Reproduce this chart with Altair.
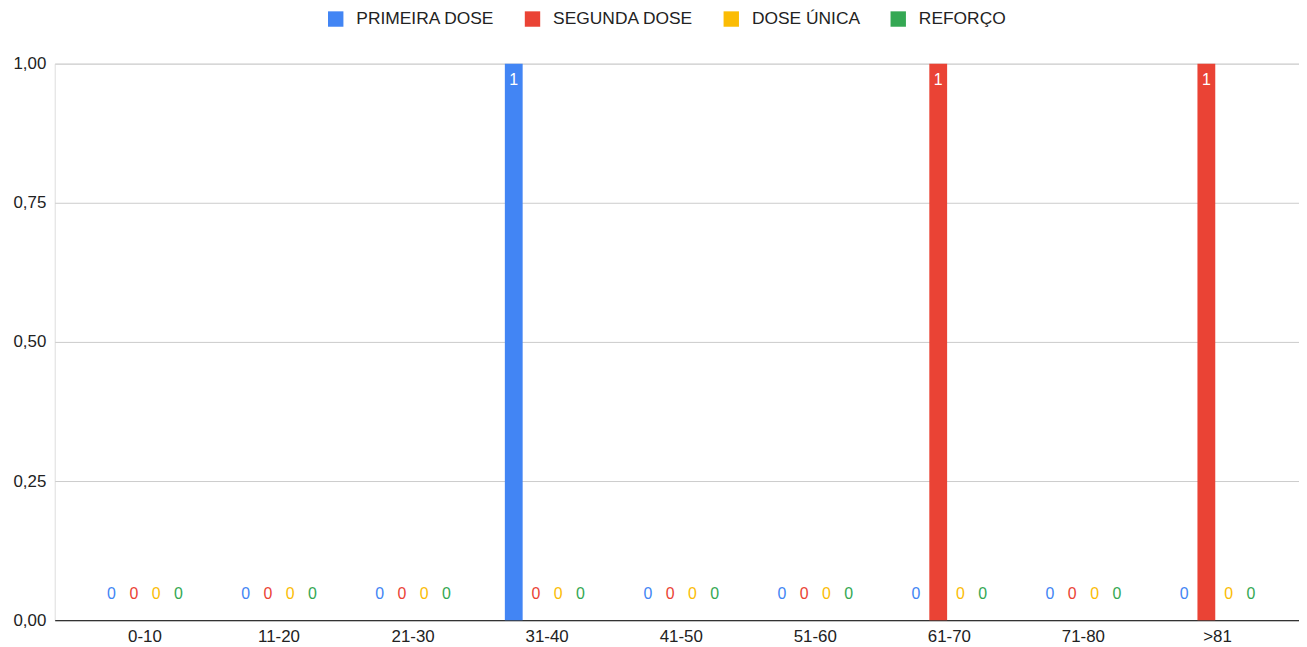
import altair as alt
import pandas as pd

categorias = ["0-10", "11-20", "21-30", "31-40", "41-50", "51-60", "61-70", "71-80", ">81"]
series = ["PRIMEIRA DOSE", "SEGUNDA DOSE", "DOSE ÚNICA", "REFORÇO"]
primeira_dose = [0, 0, 0, 1, 0, 0, 0, 0, 0]
segunda_dose = [0, 0, 0, 0, 0, 0, 1, 0, 1]
dose_unica = [0, 0, 0, 0, 0, 0, 0, 0, 0]
reforco = [0, 0, 0, 0, 0, 0, 0, 0, 0]
cores = ["#4285F4", "#EA4335", "#FBBC04", "#34A853"]

valores = [primeira_dose, segunda_dose, dose_unica, reforco]
rows = []
for s, vals in zip(series, valores):
    for c, v in zip(categorias, vals):
        rows.append({"faixa": c, "serie": s, "valor": v})
df = pd.DataFrame(rows)

FONT = "Liberation Sans"

x = alt.X("faixa:N", sort=categorias,
          scale=alt.Scale(paddingInner=0.369, paddingOuter=0.325, align=0.55),
          axis=alt.Axis(title=None, labelAngle=0, domainColor="#333333", domainWidth=1.2,
                        ticks=False, labelFontSize=17, labelPadding=8, labelColor="#222222",
                        labelFont=FONT))
xo = alt.XOffset("serie:N", sort=series,
                 scale=alt.Scale(paddingInner=0.2, paddingOuter=0))
y = alt.Y("valor:Q", scale=alt.Scale(domain=[0, 1]),
          axis=alt.Axis(title=None, values=[0, 0.25, 0.5, 0.75, 1],
                        labelExpr="replace(format(datum.value, '.2f'), '.', ',')",
                        domain=False, ticks=False, gridColor="#cccccc",
                        labelFontSize=17, labelPadding=9, labelColor="#222222",
                        labelFont=FONT))
color = alt.Color("serie:N", sort=series,
                  scale=alt.Scale(domain=series, range=cores),
                  legend=alt.Legend(title=None, orient="none", direction="horizontal",
                                    legendX=274, legendY=-54,
                                    symbolType="square", symbolSize=240, symbolStrokeWidth=0,
                                    labelFontSize=17.5, labelFont=FONT, labelColor="#222222",
                                    labelOffset=12, columnPadding=29, columns=4))

base = alt.Chart(df)

bars = base.mark_bar().encode(x=x, xOffset=xo, y=y, color=color)

zeros = base.transform_filter("datum.valor == 0").mark_text(
    dy=-26, baseline="middle", fontSize=16, font=FONT
).encode(x=x, xOffset=xo, y=y, text="valor:Q",
         color=alt.Color("serie:N", sort=series, scale=alt.Scale(domain=series, range=cores), legend=None))

ones = base.transform_filter("datum.valor > 0").mark_text(
    dy=16, baseline="middle", fontSize=16, font=FONT, color="white"
).encode(x=x, xOffset=xo, y=y, text="valor:Q")

chart = alt.layer(bars, zeros, ones).properties(
    width=1252, height=560,
    autosize=alt.AutoSizeParams(type="none"),
    padding={"left": 47, "top": 54, "right": 0, "bottom": 25},
).configure_view(stroke=None).configure(font=FONT)

chart.save("out.html", embed_options={"renderer": "svg", "actions": False})
